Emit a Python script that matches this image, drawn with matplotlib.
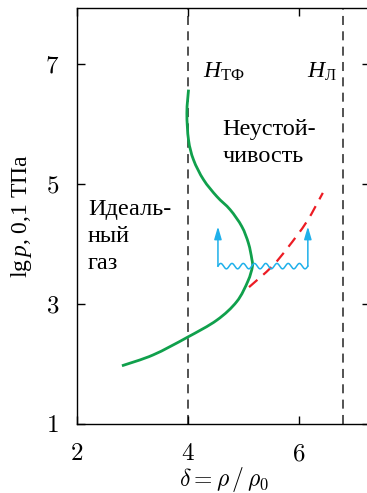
import matplotlib
matplotlib.use("Agg")
import matplotlib.pyplot as plt
from matplotlib.path import Path
from matplotlib.patches import PathPatch
import numpy as np

plt.rcParams['font.family'] = ['Liberation Serif', 'DejaVu Serif']
plt.rcParams['mathtext.fontset'] = 'custom'
plt.rcParams['mathtext.rm'] = 'Liberation Serif'
plt.rcParams['mathtext.it'] = 'Liberation Serif:italic'

# Spinodal (green) and metastable boundary (red dashed)
green_x = [2.81, 3.37, 3.98, 4.52, 4.88, 5.08, 5.16, 5.15, 5.09, 4.97,
           4.76, 4.52, 4.28, 4.10, 4.01, 3.98, 4.01]
green_y = [1.97, 2.15, 2.44, 2.73, 3.04, 3.38, 3.62, 3.75, 4.01, 4.29,
           4.57, 4.79, 5.07, 5.40, 5.73, 6.18, 6.57]
red_x = [5.10, 5.51, 5.80, 6.14, 6.43]
red_y = [3.28, 3.62, 3.94, 4.37, 4.85]

# Vertical boundaries
h_tf = 4.0
h_l = 6.8

# Arrows on the wavy path
arrow_x = [4.54, 6.16]
arrow_base = 3.63
arrow_tip = 4.29

xticks = [2, 4, 6]
yticks = [1, 3, 5, 7]


def smooth_path(xs, ys):
    """Catmull-Rom curve through the points, as cubic Bezier segments."""
    p = np.column_stack([xs, ys])
    p = np.vstack([p[0], p, p[-1]])
    verts = [p[1]]
    codes = [Path.MOVETO]
    for i in range(1, len(p) - 2):
        c1 = p[i] + (p[i + 1] - p[i - 1]) / 6
        c2 = p[i + 1] - (p[i + 2] - p[i]) / 6
        verts += [c1, c2, p[i + 1]]
        codes += [Path.CURVE4] * 3
    return Path(verts, codes)


fig = plt.figure(figsize=(3.67, 4.93), dpi=100)
ax = fig.add_axes([77 / 367, 69 / 493, 293 / 367, 416 / 493])
ax.set_xlim(2, 7.28)
ax.set_ylim(1, 7.93)

for xv in (h_tf, h_l):
    ax.axvline(xv, color='#444444', lw=1.3, dashes=(5, 3.5), zorder=1)

ax.add_patch(PathPatch(smooth_path(green_x, green_y), fill=False,
                       edgecolor='#10a04c', lw=2.0, zorder=3, capstyle='butt'))
ax.add_patch(PathPatch(smooth_path(red_x, red_y), fill=False,
                       edgecolor='#ec1c24', lw=1.6, linestyle=(0, (5, 3.5)),
                       zorder=2))

blue = '#1fb0ea'
# wavy line between the two arrows
wx = np.linspace(arrow_x[0], arrow_x[1], 500)
wy = arrow_base + 0.045 * np.sin((wx - arrow_x[0]) / (arrow_x[1] - arrow_x[0]) * 2 * np.pi * 8)
ax.plot(wx, wy, color=blue, lw=1.1, zorder=4)
for xa in arrow_x:
    ax.annotate('', xy=(xa, arrow_tip), xytext=(xa, arrow_base),
                arrowprops=dict(arrowstyle='-|>,head_length=0.75,head_width=0.22',
                                color=blue, lw=1.1, shrinkA=0, shrinkB=0),
                zorder=4)

ax.text(4.27, 6.87, r'$H_{\mathrm{ТФ}}$', fontsize=17, va='center', ha='left')
ax.text(6.14, 6.87, r'$H_{\mathrm{Л}}$', fontsize=17, va='center', ha='left')
ax.text(4.61, 5.90, 'Неустой-', fontsize=17.5, va='center', ha='left')
ax.text(4.62, 5.45, 'чивость', fontsize=17.5, va='center', ha='left')
ax.text(2.20, 4.57, 'Идеаль-', fontsize=17.5, va='center', ha='left')
ax.text(2.20, 4.12, 'ный', fontsize=17.5, va='center', ha='left')
ax.text(2.20, 3.68, 'газ', fontsize=17.5, va='center', ha='left')

ax.set_xticks(xticks)
ax.set_xticklabels([f'${v}$' for v in xticks], math_fontfamily='cm')
ax.set_yticks(yticks)
ax.set_yticklabels([f'${v}$' for v in yticks], math_fontfamily='cm')
ax.tick_params(direction='in', length=6, width=1, labelsize=18,
               top=True, right=True)
ax.tick_params(axis='x', pad=14)
ax.tick_params(axis='y', pad=13)

ax.set_xlabel(r'$\delta = \rho\,/\,\rho_0$', fontsize=17, math_fontfamily='cm',
              labelpad=0)
ax.set_ylabel(r'$\mathrm{lg}\,p$, 0,1 ТПа', fontsize=17, labelpad=8)

for s in ax.spines.values():
    s.set_linewidth(1.0)

fig.savefig('out.png', dpi=100)
